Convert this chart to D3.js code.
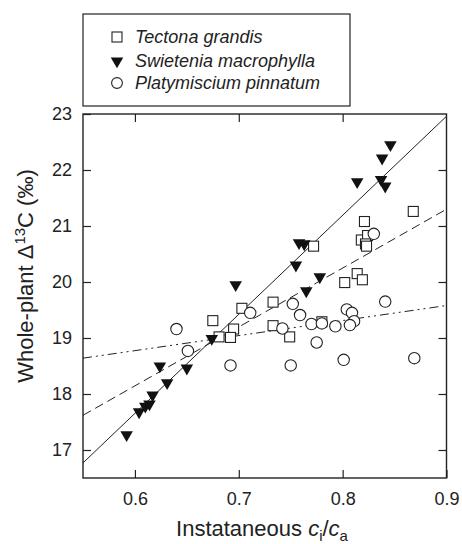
<!DOCTYPE html>
<html>
<head>
<meta charset="utf-8">
<script src="https://cdn.jsdelivr.net/npm/d3@7"></script>
<style>
  body { margin: 0; background: #fff; }
  svg text { font-family: "Liberation Sans", Arial, sans-serif; fill: #222; }
</style>
</head>
<body>
<svg id="chart" width="462" height="544"></svg>
<script>
// data
const tectonaX = [0.675, 0.703, 0.695, 0.681, 0.692, 0.733, 0.733, 0.749, 0.780, 0.772, 0.814, 0.802, 0.819, 0.868, 0.821, 0.818, 0.824, 0.822, 0.823];
const tectonaY = [19.31, 19.53, 19.16, 19.02, 19.01, 19.64, 19.22, 19.02, 19.29, 20.64, 20.15, 19.99, 20.04, 21.26, 21.08, 20.75, 20.83, 20.68, 20.64];

const swieteniaX = [0.592, 0.604, 0.610, 0.614, 0.617, 0.631, 0.624, 0.650, 0.674, 0.697, 0.758, 0.763, 0.755, 0.778, 0.765, 0.846, 0.838, 0.814, 0.837, 0.841];
const swieteniaY = [17.27, 17.68, 17.78, 17.82, 17.98, 18.20, 18.50, 18.46, 18.99, 19.95, 20.70, 20.68, 20.30, 20.09, 19.84, 22.45, 22.21, 21.79, 21.83, 21.71];

const platyX = [0.640, 0.651, 0.692, 0.711, 0.742, 0.750, 0.752, 0.759, 0.770, 0.780, 0.793, 0.775, 0.801, 0.804, 0.809, 0.811, 0.807, 0.841, 0.869, 0.830];
const platyY = [19.16, 18.77, 18.51, 19.45, 19.17, 18.51, 19.61, 19.41, 19.25, 19.26, 19.21, 18.92, 18.61, 19.51, 19.45, 19.30, 19.23, 19.65, 18.64, 20.86];

// fitted lines: [y at 0.55, y at 0.9]
const lineSwietenia = [16.77, 22.96];
const lineTectona = [17.62, 21.30];
const linePlaty = [18.64, 19.58];

const xTicks = [0.6, 0.7, 0.8, 0.9];
const yTicks = [17, 18, 19, 20, 21, 22, 23];
const speciesNames = ["Tectona grandis", "Swietenia macrophylla", "Platymiscium pinnatum"];

const svg = d3.select("#chart");
const margin = { top: 114, left: 83, right: 16, bottom: 66 };
const width = 462, height = 544;

const x = d3.scaleLinear().domain([0.55, 0.9]).range([margin.left, width - margin.right + 0.5]);
const y = d3.scaleLinear().domain([16.5, 23]).range([height - margin.bottom, margin.top]);

const x0 = x(0.55), x1 = x(0.9), y0 = y(16.5), y1 = y(23);
const tick = 8;

// clip for lines
svg.append("clipPath").attr("id", "clip")
  .append("rect").attr("x", x0).attr("y", y1).attr("width", x1 - x0).attr("height", y0 - y1);

// regression lines
const fits = [
  { v: lineSwietenia, dash: null },
  { v: lineTectona, dash: "9,5" },
  { v: linePlaty, dash: "9,4,2,4,2,4" }
];
const gl = svg.append("g").attr("clip-path", "url(#clip)");
fits.forEach(f => {
  gl.append("line")
    .attr("x1", x(0.55)).attr("y1", y(f.v[0]))
    .attr("x2", x(0.9)).attr("y2", y(f.v[1]))
    .attr("stroke", "#222").attr("stroke-width", 1)
    .attr("stroke-dasharray", f.dash);
});

// axes
svg.append("g").attr("transform", `translate(0,${y0})`)
  .call(d3.axisBottom(x).tickValues(xTicks).tickFormat(d3.format(".1f")).tickSizeInner(-tick).tickSizeOuter(0).tickPadding(14))
  .call(g => g.select(".domain").remove());
svg.append("g").attr("transform", `translate(0,${y1})`)
  .call(d3.axisTop(x).tickValues([0.6, 0.7, 0.8]).tickFormat("").tickSizeInner(-tick).tickSizeOuter(0))
  .call(g => g.select(".domain").remove());
svg.append("g").attr("transform", `translate(${x0},0)`)
  .call(d3.axisLeft(y).tickValues(yTicks).tickFormat(d3.format("d")).tickSizeInner(-tick).tickSizeOuter(0).tickPadding(11))
  .call(g => g.select(".domain").remove());
svg.append("g").attr("transform", `translate(${x1},0)`)
  .call(d3.axisRight(y).tickValues(yTicks.slice(0, -1)).tickFormat("").tickSizeInner(-tick).tickSizeOuter(0))
  .call(g => g.select(".domain").remove());

svg.selectAll(".tick line").attr("stroke", "#222").attr("stroke-width", 1.2);
svg.selectAll(".tick text").attr("font-size", 18).attr("fill", "#222")
  .attr("font-family", "Liberation Sans, Arial, sans-serif");

svg.append("rect")
  .attr("x", x0).attr("y", y1).attr("width", x1 - x0).attr("height", y0 - y1)
  .attr("fill", "none").attr("stroke", "#222").attr("stroke-width", 1.4);

// markers
const sq = 10, r = 5.7;
const tri = d3.symbol().type(d3.symbolTriangle).size(68);

svg.append("g").selectAll("rect")
  .data(d3.zip(tectonaX, tectonaY)).join("rect")
  .attr("x", d => x(d[0]) - sq / 2).attr("y", d => y(d[1]) - sq / 2)
  .attr("width", sq).attr("height", sq)
  .attr("fill", "#fff").attr("stroke", "#222").attr("stroke-width", 1.1);

svg.append("g").selectAll("circle")
  .data(d3.zip(platyX, platyY)).join("circle")
  .attr("cx", d => x(d[0])).attr("cy", d => y(d[1])).attr("r", r)
  .attr("fill", "#fff").attr("stroke", "#222").attr("stroke-width", 1.1);

svg.append("g").selectAll("path")
  .data(d3.zip(swieteniaX, swieteniaY)).join("path")
  .attr("d", tri)
  .attr("transform", d => `translate(${x(d[0])},${y(d[1])}) rotate(180)`)
  .attr("fill", "#111");

// legend
const lg = svg.append("g");
lg.append("rect").attr("x", 83).attr("y", 14).attr("width", 267).attr("height", 92)
  .attr("fill", "#fff").attr("stroke", "#222").attr("stroke-width", 1.2);
const rows = [37, 61, 83];
lg.append("rect").attr("x", 117 - 5).attr("y", rows[0] - 5).attr("width", 10).attr("height", 10)
  .attr("fill", "#fff").attr("stroke", "#222").attr("stroke-width", 1.1);
lg.append("path").attr("d", tri).attr("transform", `translate(117,${rows[1]}) rotate(180)`).attr("fill", "#111");
lg.append("circle").attr("cx", 117).attr("cy", rows[2]).attr("r", 5.4)
  .attr("fill", "#fff").attr("stroke", "#222").attr("stroke-width", 1.1);
lg.selectAll("text.leg").data(speciesNames).join("text")
  .attr("class", "leg")
  .attr("x", 135).attr("y", (d, i) => rows[i] + 6)
  .attr("font-size", 18).attr("font-style", "italic")
  .text(d => d);

// axis titles
const xt = svg.append("text").attr("x", 262).attr("y", 536).attr("text-anchor", "middle").attr("font-size", 22);
xt.append("tspan").text("Instataneous ");
xt.append("tspan").attr("font-style", "italic").text("c");
xt.append("tspan").attr("font-size", 15).attr("dy", 5).text("i");
xt.append("tspan").attr("dy", -5).text("/");
xt.append("tspan").attr("font-style", "italic").text("c");
xt.append("tspan").attr("font-size", 15).attr("dy", 5).text("a");

const yt = svg.append("text").attr("transform", "translate(33,276) rotate(-90)")
  .attr("text-anchor", "middle").attr("font-size", 22);
yt.append("tspan").text("Whole-plant Δ");
yt.append("tspan").attr("font-size", 15).attr("dy", -8).text("13");
yt.append("tspan").attr("dy", 8).text("C (‰)");
</script>
</body>
</html>
